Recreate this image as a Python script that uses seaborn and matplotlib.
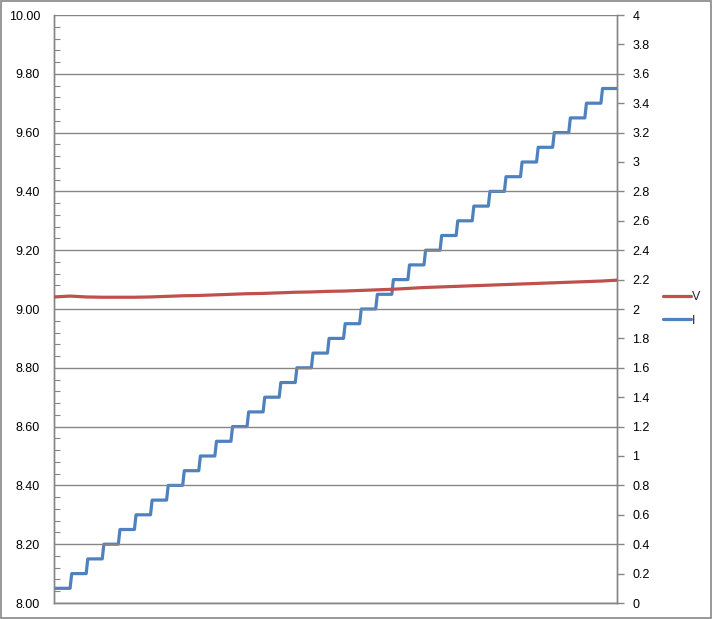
import matplotlib
matplotlib.use('Agg')
import matplotlib.pyplot as plt
import numpy as np
import pandas as pd
import seaborn as sns
from matplotlib.patches import Rectangle
from matplotlib.lines import Line2D
from matplotlib.ticker import MultipleLocator

# step duration of each current level (samples) and the levels
step_len = 10
i_levels = [0.1, 0.2, 0.3, 0.4, 0.5, 0.6, 0.7, 0.8, 0.9, 1.0,
            1.1, 1.2, 1.3, 1.4, 1.5, 1.6, 1.7, 1.8, 1.9, 2.0,
            2.1, 2.2, 2.3, 2.4, 2.5, 2.6, 2.7, 2.8, 2.9, 3.0,
            3.1, 3.2, 3.3, 3.4, 3.5]
# voltage sampled at the start of every step (plus the end)
v_time = list(range(0, 360, 10))
v_vals = [9.041, 9.044, 9.041, 9.040, 9.040, 9.040, 9.041, 9.043, 9.045, 9.046,
          9.048, 9.050, 9.052, 9.053, 9.055, 9.057, 9.058, 9.060, 9.061, 9.063,
          9.065, 9.067, 9.070, 9.073, 9.075, 9.077, 9.079, 9.081, 9.083, 9.085,
          9.087, 9.089, 9.091, 9.093, 9.095, 9.098]

RED = '#C0504D'
BLUE = '#4F81BD'
GRAY = '#868686'

# build the stepped current trace (short ramp between levels)
t_i, i_vals = [], []
for k, lvl in enumerate(i_levels):
    t_i += [k * step_len + (1 if k > 0 else 0), (k + 1) * step_len]
    i_vals += [lvl, lvl]

df_v = pd.DataFrame({'t': v_time, 'V': v_vals})
df_i = pd.DataFrame({'t': t_i, 'I': i_vals})

sns.set_style('white')
plt.rcParams['font.family'] = ['Liberation Sans', 'DejaVu Sans']

fig = plt.figure(figsize=(7.12, 6.19), dpi=100)
ax = fig.add_axes([54 / 712, 1 - 603 / 619, (617 - 54) / 712, (603 - 15) / 619])
ax2 = ax.twinx()

sns.lineplot(data=df_v, x='t', y='V', ax=ax, color=RED, lw=2.3, estimator=None, zorder=3)
sns.lineplot(data=df_i, x='t', y='I', ax=ax2, color=BLUE, lw=2.3, estimator=None, sort=False)

ax.set_zorder(ax2.get_zorder() + 1)
ax.patch.set_visible(False)

ax.set_xlim(0, 350)
ax.set_ylim(8, 10)
ax2.set_ylim(0, 4)
ax.set_xlabel('')
ax.set_ylabel('')
ax2.set_ylabel('')

ax.yaxis.set_major_locator(MultipleLocator(0.2))
ax.yaxis.set_minor_locator(MultipleLocator(0.04))
ax.yaxis.set_major_formatter(matplotlib.ticker.FormatStrFormatter('%.2f'))
ax2.yaxis.set_major_locator(MultipleLocator(0.2))
ax2.yaxis.set_major_formatter(matplotlib.ticker.FuncFormatter(lambda v, p: ('%.1f' % v).rstrip('0').rstrip('.') if v else '0'))

ax.grid(True, axis='y', color=GRAY, lw=1)
ax.set_axisbelow(True)
ax.set_xticks([])
ax.tick_params(axis='y', which='major', length=0, pad=10, labelsize=9, labelcolor='black')
ax.tick_params(axis='y', which='minor', left=True, direction='in', length=4, color=GRAY, width=0.8)
ax2.tick_params(axis='y', which='major', right=True, direction='out', length=5, color=GRAY,
                width=1, pad=6, labelsize=9, labelcolor='black')
ax2.set_xticks([])

for a in (ax, ax2):
    for s in a.spines.values():
        s.set_color(GRAY)
        s.set_linewidth(1)
    a.spines['top'].set_visible(False)

handles = [Line2D([], [], color=RED, lw=2.3), Line2D([], [], color=BLUE, lw=2.3)]
fig.legend(handles, ['V', 'I'], loc='center left', bbox_to_anchor=(652 / 712, 1 - 309 / 619),
           frameon=False, fontsize=9, handlelength=2.2, handletextpad=0.1, labelspacing=0.9)

fig.patches.append(Rectangle((0.001, 0.001), 0.997, 0.997, transform=fig.transFigure,
                             fill=False, edgecolor=GRAY, lw=1.2))

fig.savefig('out.png', dpi=100)
